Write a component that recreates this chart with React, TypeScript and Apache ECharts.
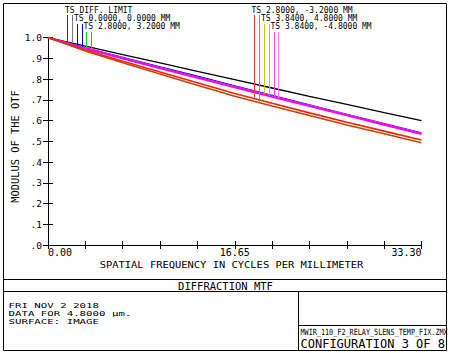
import React, { useEffect, useRef } from "react";
import * as echarts from "echarts";

// Spatial frequency samples (cycles/mm)
const freqs = [0, 3.33, 6.66, 9.99, 13.32, 16.65, 19.98, 23.31, 26.64, 29.97, 33.3];
// Modulus of the OTF
const diffLimit = [1, 0.959, 0.918, 0.878, 0.837, 0.797, 0.757, 0.717, 0.678, 0.638, 0.6];
const field00 = [1, 0.95, 0.904, 0.858, 0.813, 0.767, 0.721, 0.675, 0.629, 0.584, 0.54];
const field28p32 = [1, 0.949, 0.902, 0.855, 0.809, 0.763, 0.718, 0.673, 0.628, 0.582, 0.538];
const field28m32T = [1, 0.94, 0.886, 0.834, 0.782, 0.73, 0.683, 0.637, 0.592, 0.549, 0.506];
const field28m32S = [1, 0.936, 0.879, 0.824, 0.77, 0.717, 0.67, 0.624, 0.579, 0.536, 0.493];
const field384p48 = [1, 0.948, 0.9, 0.854, 0.808, 0.762, 0.717, 0.672, 0.627, 0.582, 0.537];
const field384m48 = [1, 0.948, 0.9, 0.853, 0.807, 0.761, 0.716, 0.671, 0.626, 0.581, 0.536];

const xTickLabels = ["0.00", "16.65", "33.30"];
const yTickLabels = [".0", ".1", ".2", ".3", ".4", ".5", ".6", ".7", ".8", ".9", "1.0"];

const legendLabels = [
  "TS DIFF. LIMIT",
  "TS 0.0000, 0.0000 MM",
  "TS 2.8000, 3.2000 MM",
  "TS 2.8000, -3.2000 MM",
  "TS 3.8400, 4.8000 MM",
  "TS 3.8400, -4.8000 MM",
];

const MONO = '"DejaVu Sans Mono", monospace';

const pairs = (ys: number[]) => freqs.map((f, i) => [f, ys[i]]);

function interp(ys: number[], f: number) {
  for (let i = 0; i < freqs.length - 1; i++) {
    if (f >= freqs[i] && f <= freqs[i + 1]) {
      const t = (f - freqs[i]) / (freqs[i + 1] - freqs[i]);
      return ys[i] + t * (ys[i + 1] - ys[i]);
    }
  }
  return ys[ys.length - 1];
}

export default function App() {
  const ref = useRef<HTMLDivElement>(null);
  useEffect(() => {
    if (!ref.current) return;
    const chart = echarts.init(ref.current, undefined, { renderer: "svg" });
    const tickSet = (v: number) => {
      if (Math.abs(v) < 1e-6) return xTickLabels[0];
      if (Math.abs(v - 16.65) < 1e-6) return xTickLabels[1];
      if (Math.abs(v - 33.3) < 1e-6) return xTickLabels[2];
      return "";
    };
    const axisLineStyle = { color: "#000", width: 1 };
    const line = (name: string, ys: number[], color: string, width: number) => ({
      name,
      type: "line",
      data: pairs(ys),
      showSymbol: false,
      symbol: "none",
      lineStyle: { color, width },
      itemStyle: { color },
      z: 3,
    });
    chart.setOption({
      animation: false,
      backgroundColor: "#fff",
      grid: { left: 48, right: 28.5, top: 37.6, bottom: 108 },
      xAxis: [
        {
          type: "value",
          min: 0,
          max: 33.3,
          interval: 3.33,
          position: "bottom",
          axisLine: { lineStyle: axisLineStyle },
          axisTick: { inside: true, length: 4, lineStyle: axisLineStyle },
          splitLine: { show: false },
          axisLabel: {
            formatter: tickSet,
            fontFamily: MONO,
            fontSize: 10,
            color: "#000",
            margin: 2,
            alignMinLabel: "left",
            alignMaxLabel: "right",
          },
        },
        {
          type: "value",
          min: 0,
          max: 33.3,
          interval: 3.33,
          position: "top",
          axisLine: { lineStyle: axisLineStyle },
          axisTick: { inside: true, length: 4, lineStyle: axisLineStyle },
          splitLine: { show: false },
          axisLabel: { show: false },
        },
      ],
      yAxis: [
        {
          type: "value",
          min: 0,
          max: 1,
          interval: 0.1,
          position: "left",
          axisLine: { lineStyle: axisLineStyle },
          axisTick: { inside: true, length: 5, lineStyle: axisLineStyle },
          splitLine: { show: false },
          axisLabel: {
            formatter: (v: number) => yTickLabels[Math.round(v * 10)],
            fontFamily: MONO,
            fontSize: 9.5,
            color: "#000",
            margin: 6,
            verticalAlign: "middle",
            padding: [0, 0, 8, 0],
          },
        },
        {
          type: "value",
          min: 0,
          max: 1,
          interval: 0.1,
          position: "right",
          axisLine: { lineStyle: axisLineStyle },
          axisTick: { inside: true, length: 5, lineStyle: axisLineStyle },
          splitLine: { show: false },
          axisLabel: { show: false },
        },
      ],
      series: [
        line("DIFF. LIMIT", diffLimit, "#000000", 1.3),
        line("0.0000, 0.0000 MM", field00, "#0000ff", 1.6),
        line("2.8000, 3.2000 MM", field28p32, "#00d000", 1.3),
        line("3.8400, 4.8000 MM", field384p48, "#c8c800", 1.3),
        line("3.8400, -4.8000 MM", field384m48, "#ff00ff", 2.4),
        line("2.8000, -3.2000 MM T", field28m32T, "#ff2000", 1.6),
        line("2.8000, -3.2000 MM S", field28m32S, "#c84400", 1.6),
      ],
    });

    // legend key lines: from under the legend text down to each curve
    const keys: { f: number; top: number; ys: number[]; color: string }[] = [
      { f: 1.67, top: 15, ys: diffLimit, color: "#333" },
      { f: 2.12, top: 15, ys: diffLimit, color: "#777" },
      { f: 2.56, top: 24, ys: field00, color: "#0000ff" },
      { f: 3.01, top: 24, ys: field00, color: "#0000ff" },
      { f: 3.39, top: 32, ys: field28p32, color: "#00e000" },
      { f: 3.81, top: 32, ys: field28p32, color: "#00e000" },
      { f: 18.4, top: 15, ys: field28m32T, color: "#ff3030" },
      { f: 18.84, top: 15, ys: field28m32S, color: "#ff6060" },
      { f: 19.25, top: 24, ys: field384p48, color: "#c8c800" },
      { f: 19.66, top: 24, ys: field384p48, color: "#c8c800" },
      { f: 20.11, top: 32, ys: field384m48, color: "#ff40ff" },
      { f: 20.5, top: 32, ys: field384m48, color: "#ff80ff" },
    ];
    const keyLines = keys.map((k) => {
      const p = chart.convertToPixel({ gridIndex: 0 }, [k.f, interp(k.ys, k.f)]) as number[];
      const x = Math.round(p[0]) + 0.5;
      return {
        type: "line",
        shape: { x1: x, y1: k.top, x2: x, y2: p[1] },
        style: { stroke: k.color, lineWidth: 1 },
        z: 10,
      };
    });

    const txt = (
      text: string,
      x: number,
      y: number,
      fontSize: number,
      align: string = "left",
      extra: any = {}
    ) => ({
      type: "text",
      x,
      y,
      z: 20,
      ...extra,
      style: {
        text,
        fontFamily: MONO,
        fontSize,
        fill: "#000",
        align,
        verticalAlign: "middle",
      },
    });

    const frameStroke = { stroke: "#000", lineWidth: 1, fill: "none" };
    const hline = (x1: number, x2: number, y: number) => ({
      type: "line",
      shape: { x1, y1: y, x2, y2: y },
      style: { stroke: "#000", lineWidth: 1 },
      z: 5,
    });
    const vline = (x: number, y1: number, y2: number) => ({
      type: "line",
      shape: { x1: x, y1, x2: x, y2 },
      style: { stroke: "#000", lineWidth: 1 },
      z: 5,
    });

    chart.setOption({
      graphic: [
        { type: "rect", shape: { x: 3.5, y: 3.5, width: 443, height: 347 }, style: frameStroke, z: 5 },
        hline(3.5, 446.5, 279.5),
        hline(3.5, 446.5, 291.5),
        vline(298.5, 291.5, 350.5),
        hline(298.5, 446.5, 325.5),
        ...keyLines,
        txt(legendLabels[0], 65, 10.5, 8),
        txt(legendLabels[1], 74, 18.5, 8),
        txt(legendLabels[2], 83.5, 26.5, 8),
        txt(legendLabels[3], 251.5, 10.5, 8),
        txt(legendLabels[4], 261, 18.5, 8),
        txt(legendLabels[5], 270.5, 26.5, 8),
        txt("MODULUS OF THE OTF", 15, 146.5, 10.4, "center", { rotation: Math.PI / 2 }),
        txt("SPATIAL FREQUENCY IN CYCLES PER MILLIMETER", 231.5, 264.5, 9, "center", { scaleX: 1.16 }),
        txt("DIFFRACTION MTF", 225.5, 285.5, 10.5, "center"),
        txt("FRI NOV 2 2018", 8.5, 305, 7.8, "left", { scaleX: 1.38 }),
        txt("DATA FOR 4.8000 \u00b5m.", 8.5, 313, 7.8, "left", { scaleX: 1.38 }),
        txt("SURFACE: IMAGE", 8.5, 321, 7.8, "left", { scaleX: 1.38 }),
        txt("MWIR_110_F2_RELAY_5LENS_TEMP_FIX.ZMX", 300.5, 332.5, 8.5, "left", { scaleX: 0.8 }),
        txt("CONFIGURATION 3 OF 8", 300.5, 343.5, 12),
      ],
    });

    return () => chart.dispose();
  }, []);
  return (
    <div
      ref={ref}
      style={{ position: "fixed", left: 0, top: 0, width: 450, height: 353 }}
    />
  );
}
